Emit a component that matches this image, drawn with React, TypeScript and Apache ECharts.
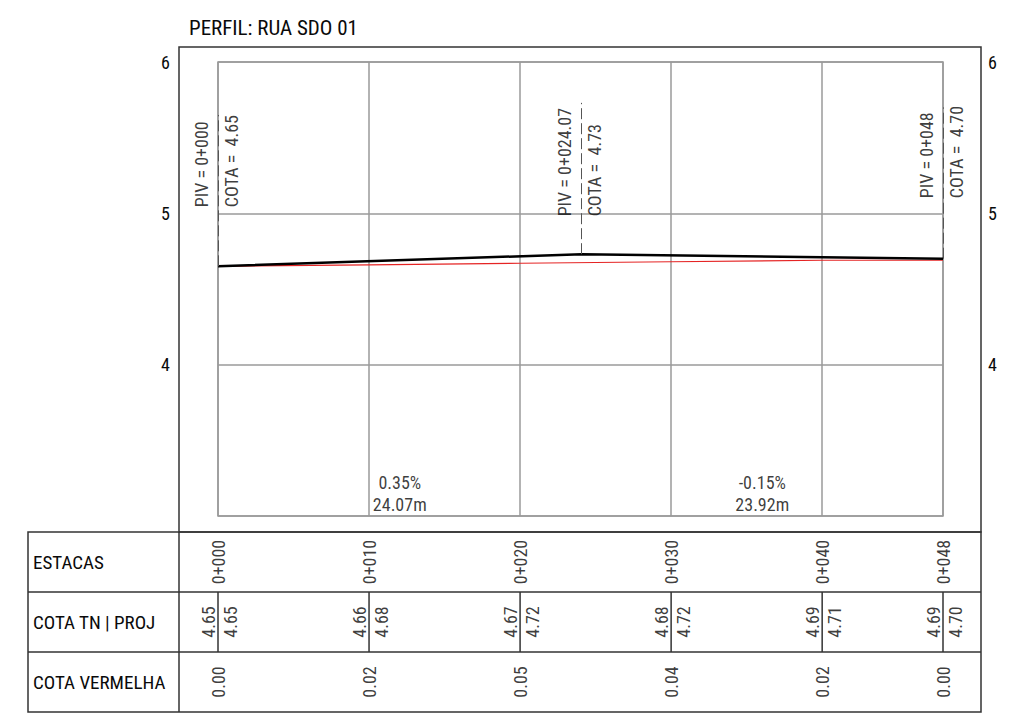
import React, { useEffect, useRef } from "react";
import * as echarts from "echarts";

const TITLE = "PERFIL: RUA SDO 01";
const stations = [0, 10, 20, 30, 40, 48];
const stationLabels = ["0+000", "0+010", "0+020", "0+030", "0+040", "0+048"];
const cotaTN = [4.65, 4.66, 4.67, 4.68, 4.69, 4.69];
const cotaProj = [4.65, 4.68, 4.72, 4.72, 4.71, 4.7];
const cotaVermelha = [0.0, 0.02, 0.05, 0.04, 0.02, 0.0];
const pivStations = [0, 24.07, 48];
const pivElev = [4.65, 4.73, 4.7];
const pivLabels = ["PIV = 0+000", "PIV = 0+024.07", "PIV = 0+048"];
const pivLabelBase = [5.04, 4.98, 5.1];
const slopeLabels = ["0.35%", "-0.15%"];
const lengthLabels = ["24.07m", "23.92m"];
const slopeLabelY = 3.15;
const rowNames = ["ESTACAS", "COTA TN | PROJ", "COTA VERMELHA"];

const FONT = "'Liberation Sans Narrow', 'Arial Narrow', 'Roboto Condensed', 'DejaVu Sans Condensed', sans-serif";
const FS = 18;
const TXT = "#0a0a0a";

export default function App() {
  const ref = useRef<HTMLDivElement>(null);
  useEffect(() => {
    if (!ref.current) return;
    const chart = echarts.init(ref.current, undefined, { renderer: "svg" });
    const hidden = { color: "rgba(0,0,0,0)" };
    const lbl = (extra: any) => ({
      show: true,
      position: "inside",
      fontFamily: FONT,
      fontSize: FS,
      color: TXT,
      ...extra,
    });
    const midpoints = slopeLabels.map((_, i) => (pivStations[i] + pivStations[i + 1]) / 2);
    const option: any = {
      animation: false,
      backgroundColor: "#fff",
      textStyle: { fontFamily: FONT },
      title: {
        text: TITLE,
        left: 184,
        top: 12,
        textStyle: { fontSize: 21, fontWeight: "normal", color: TXT, fontFamily: FONT },
      },
      grid: [
        { left: 218, right: 77, top: 62, bottom: 198, show: true, borderColor: "#9a9a9a", borderWidth: 1.5 },
        { left: 218, right: 77, top: 532, bottom: 2 },
      ],
      xAxis: [
        {
          type: "value", gridIndex: 0, min: 0, max: 48, interval: 10,
          axisLine: { show: false }, axisTick: { show: false }, axisLabel: { show: false },
          splitLine: { show: true, lineStyle: { color: "#9a9a9a", width: 1.5 } },
        },
        { type: "value", gridIndex: 1, min: 0, max: 48, show: false },
      ],
      yAxis: [
        {
          type: "value", gridIndex: 0, min: 3, max: 6, interval: 1,
          axisLine: { show: false }, axisTick: { show: false },
          axisLabel: { margin: 48, fontSize: FS, color: TXT, fontFamily: FONT, formatter: (v: number) => (v === 3 ? "" : String(v)) },
          splitLine: { show: true, lineStyle: { color: "#9a9a9a", width: 1.5 } },
        },
        {
          type: "value", gridIndex: 0, min: 3, max: 6, interval: 1, position: "right",
          axisLine: { show: false }, axisTick: { show: false },
          axisLabel: { margin: 45, fontSize: FS, color: TXT, fontFamily: FONT, formatter: (v: number) => (v === 3 ? "" : String(v)) },
          splitLine: { show: false },
        },
        {
          type: "category", gridIndex: 1, data: rowNames, inverse: true,
          axisLine: { show: false }, axisTick: { show: false }, splitLine: { show: false },
          axisLabel: { align: "left", margin: 185, fontSize: 19, color: TXT, fontFamily: FONT },
        },
      ],
      graphic: [
        { type: "rect", shape: { x: 179, y: 47, width: 802, height: 485 }, style: { fill: "none", stroke: "#333", lineWidth: 1.5 }, silent: true },
        { type: "rect", shape: { x: 28, y: 532, width: 953, height: 180 }, style: { fill: "none", stroke: "#333", lineWidth: 1.5 }, silent: true },
        { type: "line", shape: { x1: 28, y1: 592, x2: 981, y2: 592 }, style: { stroke: "#333", lineWidth: 1.5 }, silent: true },
        { type: "line", shape: { x1: 28, y1: 652, x2: 981, y2: 652 }, style: { stroke: "#333", lineWidth: 1.5 }, silent: true },
        { type: "line", shape: { x1: 179, y1: 532, x2: 179, y2: 712 }, style: { stroke: "#333", lineWidth: 1.5 }, silent: true },
      ],
      series: [
        {
          name: "TN", type: "line", xAxisIndex: 0, yAxisIndex: 0, symbol: "none", silent: true, z: 3,
          data: stations.map((s, i) => [s, cotaTN[i]]),
          lineStyle: { color: "#e52424", width: 1.2 },
        },
        {
          name: "PROJ", type: "line", xAxisIndex: 0, yAxisIndex: 0, symbol: "none", silent: true, z: 4,
          data: pivStations.map((s, i) => [s, pivElev[i]]),
          lineStyle: { color: "#000", width: 2.5 },
          markLine: {
            silent: true, symbol: "none", label: { show: false },
            lineStyle: { color: "#555", width: 1, type: [11, 4] },
            data: pivStations.map((s, i) => [{ coord: [s, pivElev[i]] }, { coord: [s, pivElev[i] + 1] }]),
          },
        },
        {
          type: "scatter", xAxisIndex: 0, yAxisIndex: 0, symbolSize: 1, itemStyle: hidden, silent: true, clip: false,
          data: pivStations.map((s, i) => [s, pivLabelBase[i]]),
          label: lbl({ formatter: (p: any) => pivLabels[p.dataIndex], rotate: 90, align: "left", verticalAlign: "bottom", padding: [0, 0, 8, 0] }),
        },
        {
          type: "scatter", xAxisIndex: 0, yAxisIndex: 0, symbolSize: 1, itemStyle: hidden, silent: true, clip: false,
          data: pivStations.map((s, i) => [s, pivLabelBase[i]]),
          label: lbl({ formatter: (p: any) => "COTA =  " + pivElev[p.dataIndex].toFixed(2), rotate: 90, align: "left", verticalAlign: "top", padding: [4, 0, 0, 0] }),
        },
        {
          type: "scatter", xAxisIndex: 0, yAxisIndex: 0, symbolSize: 1, itemStyle: hidden, silent: true,
          data: midpoints.map((m) => [m, slopeLabelY]),
          label: lbl({ formatter: (p: any) => slopeLabels[p.dataIndex] + "\n" + lengthLabels[p.dataIndex], align: "center", verticalAlign: "middle", lineHeight: 22 }),
        },
        {
          type: "scatter", xAxisIndex: 1, yAxisIndex: 2, symbolSize: 1, itemStyle: hidden, silent: true, clip: false,
          data: stations.map((s) => [s, 0]),
          label: lbl({ formatter: (p: any) => stationLabels[p.dataIndex], rotate: 90, align: "center", verticalAlign: "middle" }),
        },
        {
          type: "scatter", xAxisIndex: 1, yAxisIndex: 2, symbolSize: 1, itemStyle: hidden, silent: true, clip: false,
          data: stations.map((s) => [s, 1]),
          label: lbl({ formatter: (p: any) => cotaTN[p.dataIndex].toFixed(2), rotate: 90, align: "center", verticalAlign: "bottom", padding: [0, 0, 1, 0] }),
        },
        {
          type: "scatter", xAxisIndex: 1, yAxisIndex: 2, symbolSize: 1, itemStyle: hidden, silent: true, clip: false,
          data: stations.map((s) => [s, 1]),
          label: lbl({ formatter: (p: any) => cotaProj[p.dataIndex].toFixed(2), rotate: 90, align: "center", verticalAlign: "top", padding: [3, 0, 0, 0] }),
        },
        {
          type: "scatter", xAxisIndex: 1, yAxisIndex: 2, symbolSize: 1, itemStyle: hidden, silent: true, clip: false,
          data: stations.map((s) => [s, 2]),
          label: lbl({ formatter: (p: any) => cotaVermelha[p.dataIndex].toFixed(2), rotate: 90, align: "center", verticalAlign: "middle" }),
        },
        {
          type: "custom", xAxisIndex: 1, yAxisIndex: 2, silent: true,
          data: stations.map((s) => [s, 1]),
          renderItem: (params: any, api: any) => {
            const p = api.coord([api.value(0), api.value(1)]);
            const h = api.size([0, 1])[1];
            return {
              type: "line",
              shape: { x1: p[0], y1: p[1] - h / 2, x2: p[0], y2: p[1] + h / 2 },
              style: { stroke: "#333", lineWidth: 1.5 },
            };
          },
        },
      ],
    };
    chart.setOption(option);
    return () => chart.dispose();
  }, []);
  return <div ref={ref} style={{ position: "absolute", left: 0, top: 0, width: 1020, height: 714 }} />;
}
